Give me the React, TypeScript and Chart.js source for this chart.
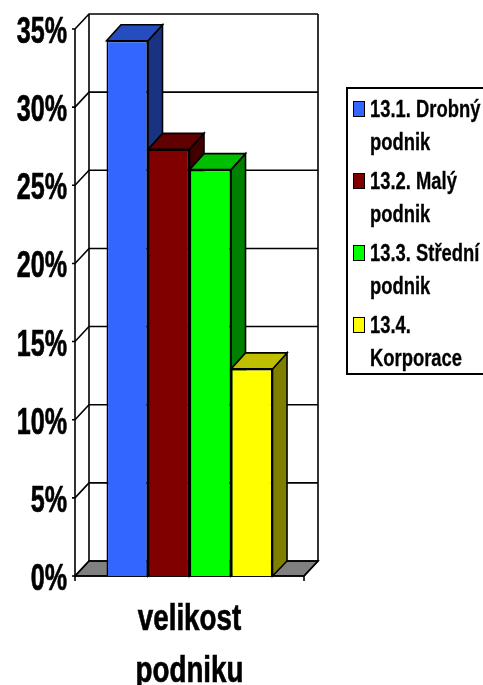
import React, { useEffect, useRef } from "react";
import { Chart, registerables } from "chart.js";

Chart.register(...registerables);

const categoryLabel = ["velikost", "podniku"];
const seriesNames = ["13.1. Drobný podnik", "13.2. Malý podnik", "13.3. Střední podnik", "13.4. Korporace"];
const legendLines = [["13.1. Drobný", "podnik"], ["13.2. Malý", "podnik"], ["13.3. Střední", "podnik"], ["13.4.", "Korporace"]];
const seriesValues = [34.25, 27.3, 26, 13.25];
const frontColors = ["#3366ff", "#800000", "#00ff00", "#ffff00"];
const topColors = ["#264dbf", "#600000", "#00bf00", "#bfbf00"];
const sideColors = ["#1a3380", "#400000", "#008000", "#808000"];
const FONT = '"Liberation Sans", Arial, sans-serif';
const DX = 14;
const DY = 15;
const BAR_DX = 14.5;
const BAR_DY = 16;

const poly = (ctx: CanvasRenderingContext2D, pts: number[][], fill: string) => {
  ctx.beginPath();
  pts.forEach((p, i) => (i ? ctx.lineTo(p[0], p[1]) : ctx.moveTo(p[0], p[1])));
  ctx.closePath();
  ctx.fillStyle = fill;
  ctx.fill();
  ctx.stroke();
};

const squeezed = (ctx: CanvasRenderingContext2D, text: string, x: number, y: number, sx: number, align: CanvasTextAlign) => {
  ctx.save();
  ctx.translate(x, y);
  ctx.scale(sx, 1);
  ctx.textAlign = align;
  ctx.strokeStyle = "#000";
  ctx.lineWidth = 0.7;
  ctx.strokeText(text, 0, 0);
  ctx.fillText(text, 0, 0);
  ctx.restore();
};

const depth3d = {
  id: "depth3d",
  beforeDatasetsDraw(chart: any) {
    const { ctx, chartArea: a, scales } = chart;
    const y = scales.y;
    ctx.save();
    ctx.strokeStyle = "#000";
    ctx.lineWidth = 1.6;
    poly(ctx, [[a.left, a.bottom], [a.left + DX, a.bottom - DY], [a.right + DX, a.bottom - DY], [a.right, a.bottom]], "#808080");
    y.ticks.forEach((t: any) => {
      const py = y.getPixelForValue(t.value);
      ctx.beginPath();
      ctx.moveTo(a.left - 3, py);
      ctx.lineTo(a.left, py);
      ctx.lineTo(a.left + DX, py - DY);
      ctx.lineTo(a.right + DX, py - DY);
      ctx.stroke();
    });
    ctx.beginPath();
    ctx.moveTo(a.left, a.top);
    ctx.lineTo(a.left, a.bottom + 5);
    ctx.moveTo(a.left + DX, a.top - DY);
    ctx.lineTo(a.left + DX, a.bottom - DY);
    ctx.moveTo(a.right + DX, a.top - DY);
    ctx.lineTo(a.right + DX, a.bottom - DY);
    ctx.lineTo(a.right, a.bottom);
    ctx.lineTo(a.right, a.bottom + 5);
    ctx.moveTo(a.left, a.bottom);
    ctx.lineTo(a.right, a.bottom);
    ctx.stroke();
    chart.data.datasets.forEach((_: any, i: number) => {
      const el = chart.getDatasetMeta(i).data[0];
      const half = el.width / 2;
      const l = el.x - half;
      const r = el.x + half;
      const t = el.y;
      const b = el.base;
      poly(ctx, [[r, t], [r + BAR_DX, t - BAR_DY], [r + BAR_DX, b - DY], [r, b]], sideColors[i]);
      poly(ctx, [[l, t], [l + BAR_DX, t - BAR_DY], [r + BAR_DX, t - BAR_DY], [r, t]], topColors[i]);
    });
    ctx.restore();
  },
  afterDraw(chart: any) {
    const { ctx, chartArea: a, scales } = chart;
    ctx.save();
    ctx.fillStyle = "#000";
    // the reference's lettering is far more condensed than any installed face
    ctx.font = `bold 37.5px ${FONT}`;
    ctx.textBaseline = "alphabetic";
    scales.y.ticks.forEach((t: any) => {
      squeezed(ctx, t.label, a.left - 8, scales.y.getPixelForValue(t.value) + 14, 0.67, "right");
    });
    ctx.font = `bold 37.5px ${FONT}`;
    categoryLabel.forEach((line, i) => {
      squeezed(ctx, line, scales.x.getPixelForValue(0), a.bottom + 54 + i * 52, 0.74, "center");
    });
    ctx.restore();
  },
};

export default function App() {
  const ref = useRef<HTMLCanvasElement>(null);
  useEffect(() => {
    const chart = new Chart(ref.current!, {
      type: "bar",
      data: {
        labels: [categoryLabel],
        datasets: seriesNames.map((name, i) => ({
          label: name,
          data: [seriesValues[i]],
          backgroundColor: frontColors[i],
          borderColor: "#000",
          borderWidth: 1.6,
        })),
      },
      options: {
        animation: false,
        responsive: false,
        categoryPercentage: 0.725,
        barPercentage: 1,
        layout: { padding: { left: 0, top: 29, right: 179, bottom: 0 } },
        plugins: { legend: { display: false }, tooltip: { enabled: false } },
        scales: {
          y: {
            min: 0,
            max: 35,
            grid: { display: false },
            border: { display: false },
            afterFit: (s: any) => { s.width = 75; },
            ticks: {
              stepSize: 5,
              display: false,
              callback: (v: any) => `${v}%`,
            },
          },
          x: {
            grid: { display: false },
            border: { display: false },
            afterFit: (s: any) => { s.height = 109; },
            ticks: { display: false },
          },
        },
      } as any,
      plugins: [depth3d],
    });
    return () => chart.destroy();
  }, []);

  return (
    <div style={{ position: "fixed", left: 0, top: 0, width: 483, height: 685, overflow: "hidden", background: "#fff" }}>
      <canvas ref={ref} width={483} height={685} style={{ display: "block" }} />
      <div
        style={{
          position: "absolute",
          left: 346,
          top: 87,
          width: 140,
          height: 288,
          boxSizing: "border-box",
          border: "2px solid #000",
          fontFamily: FONT,
          fontWeight: "bold",
          fontSize: 23,
          lineHeight: "33px",
          color: "#000",
          WebkitTextStroke: "0.3px #000",
        }}
      >
        {legendLines.map((lines, i) => (
          <div key={i} style={{ position: "absolute", left: 5, top: 4 + i * 72, whiteSpace: "nowrap" }}>
            <span
              style={{
                position: "absolute",
                left: 0,
                top: 8,
                width: 12,
                height: 16,
                boxSizing: "border-box",
                border: "1.5px solid #000",
                background: frontColors[i],
              }}
            />
            <div style={{ marginLeft: 17, transform: "scaleX(0.8)", transformOrigin: "left center" }}>
              {lines.map((l) => <div key={l}>{l}</div>)}
            </div>
          </div>
        ))}
      </div>
    </div>
  );
}
